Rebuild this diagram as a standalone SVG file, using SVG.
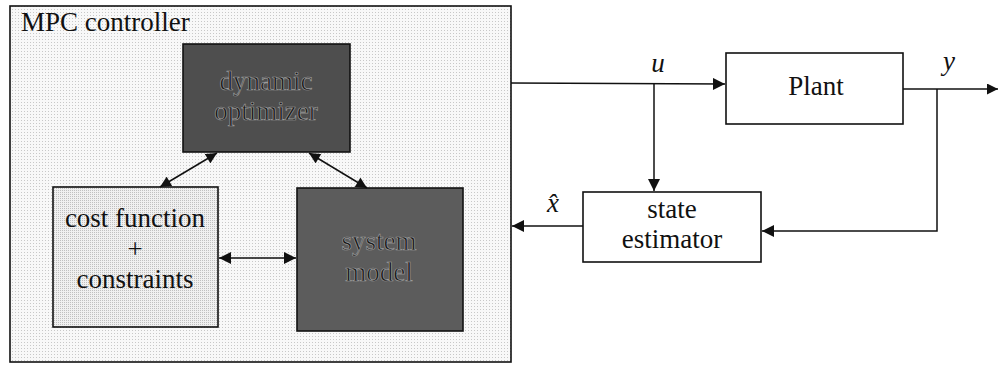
<svg xmlns="http://www.w3.org/2000/svg" width="999" height="367" viewBox="0 0 999 367">
  <style>
    .box { stroke: #111; stroke-width: 1.6; }
    .wire { fill: none; stroke: #111; stroke-width: 1.5; }
    .lbl { font-family: "Liberation Serif", "Times New Roman", serif; font-size: 27px; fill: #111; text-anchor: middle; }
    .start { text-anchor: start; }
    .dark { fill: #161616; stroke: #9c9c9c; stroke-width: 0.7; }
    .math { font-family: "Liberation Serif", "Times New Roman", serif; font-style: italic; font-size: 27px; fill: #111; text-anchor: middle; }
  </style>
  <defs>
    <pattern id="stipple" width="3" height="3" patternUnits="userSpaceOnUse">
      <rect width="3" height="3" fill="#f8f8f8"/>
      <rect width="1" height="1" fill="#c8c8c8"/>
    </pattern>
    <pattern id="stippleDense" width="2" height="2" patternUnits="userSpaceOnUse">
      <rect width="2" height="2" fill="#f0f0f0"/>
      <rect width="1" height="1" fill="#c0c0c0"/>
    </pattern>
    <marker id="head" viewBox="0 0 10 10" refX="10" refY="5" markerWidth="12" markerHeight="11" markerUnits="userSpaceOnUse" orient="auto-start-reverse">
      <path d="M0,0 L10,5 L0,10 Z" fill="#111"/>
    </marker>
    <marker id="headBig" viewBox="0 0 10 10" refX="10" refY="5" markerWidth="15" markerHeight="12" markerUnits="userSpaceOnUse" orient="auto-start-reverse">
      <path d="M0,0 L10,5 L0,10 Z" fill="#111"/>
    </marker>
  </defs>

  <!-- controller frame -->
  <g id="mpc-controller">
    <rect class="box" x="10" y="6" width="501" height="356" fill="url(#stipple)"/>
    <text class="lbl start" x="21" y="31">MPC controller</text>
  </g>

  <g id="dynamic-optimizer">
    <rect class="box" x="183" y="44" width="167" height="108" fill="#4e4e4e"/>
    <text class="lbl dark" x="266" y="90">dynamic</text>
    <text class="lbl dark" x="266" y="120">optimizer</text>
  </g>

  <g id="cost-function">
    <rect class="box" x="53" y="187" width="165" height="140" fill="url(#stippleDense)"/>
    <text class="lbl" x="135" y="227">cost function</text>
    <text class="lbl" x="135" y="258">+</text>
    <text class="lbl" x="135" y="288">constraints</text>
  </g>

  <g id="system-model">
    <rect class="box" x="297" y="188" width="166" height="143" fill="#5c5c5c"/>
    <text class="lbl dark" x="379" y="250">system</text>
    <text class="lbl dark" x="379" y="281">model</text>
  </g>

  <g id="plant">
    <rect class="box" x="726" y="53" width="177" height="71" fill="#ffffff"/>
    <text class="lbl" x="816" y="95">Plant</text>
  </g>

  <g id="state-estimator">
    <rect class="box" x="583" y="192" width="178" height="70" fill="#ffffff"/>
    <text class="lbl" x="672" y="218">state</text>
    <text class="lbl" x="672" y="248">estimator</text>
  </g>

  <g id="connectors">
    <!-- internal two-way links -->
    <line class="wire" x1="217" y1="153" x2="160" y2="187" marker-start="url(#head)" marker-end="url(#head)"/>
    <line class="wire" x1="309" y1="153" x2="367" y2="188" marker-start="url(#head)" marker-end="url(#head)"/>
    <line class="wire" x1="219" y1="258" x2="296" y2="258" marker-start="url(#headBig)" marker-end="url(#headBig)"/>
    <!-- control input -->
    <line class="wire" x1="511" y1="83" x2="725" y2="84" marker-end="url(#headBig)"/>
    <line class="wire" x1="654" y1="84" x2="654" y2="191" marker-end="url(#headBig)"/>
    <!-- measured output -->
    <line class="wire" x1="903" y1="89" x2="998" y2="89" marker-end="url(#head)"/>
    <polyline class="wire" points="937,89 937,231 762,231" marker-end="url(#headBig)"/>
    <!-- state estimate back to controller -->
    <line class="wire" x1="583" y1="226" x2="512" y2="226" marker-end="url(#headBig)"/>
  </g>

  <g id="signal-labels">
    <text class="math" x="658" y="72">u</text>
    <text class="math" x="949" y="70">y</text>
    <text class="math" x="553" y="212">x&#x302;</text>
  </g>
</svg>
